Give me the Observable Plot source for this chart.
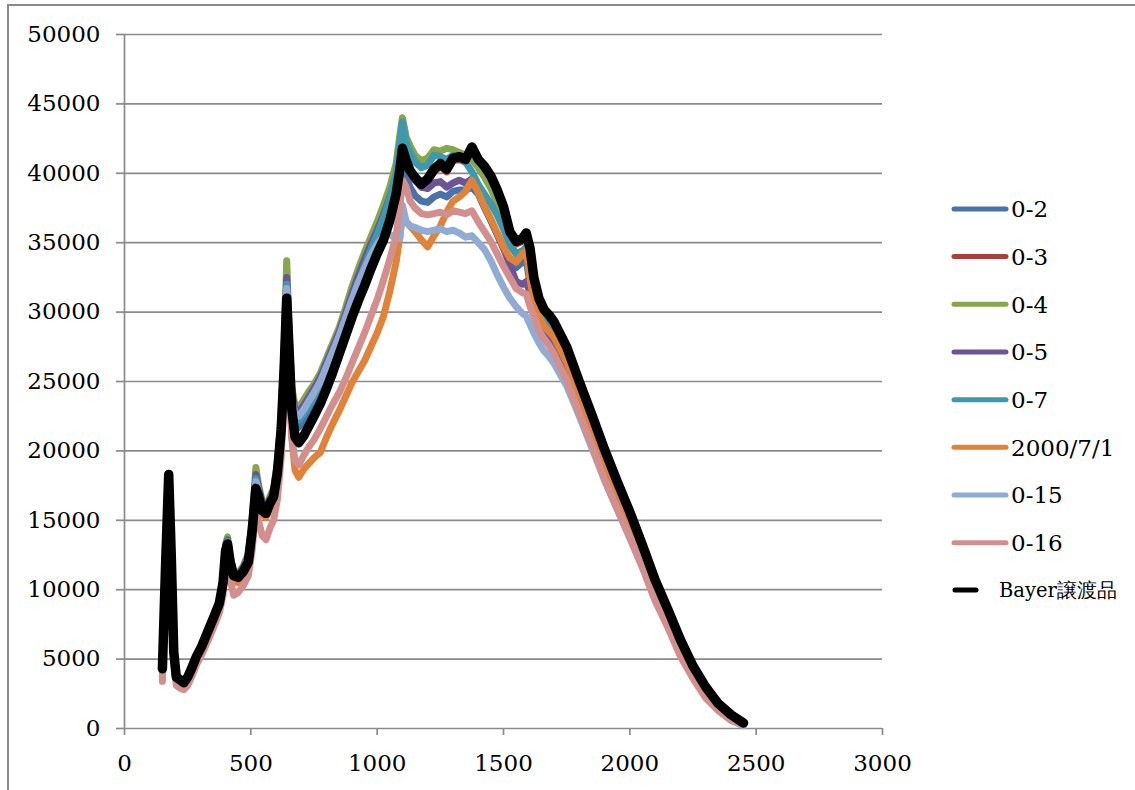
<!DOCTYPE html>
<html><head><meta charset="utf-8">
<script src="https://cdn.jsdelivr.net/npm/d3@7"></script>
<script src="https://cdn.jsdelivr.net/npm/@observablehq/plot@0.6"></script>
<style>
html,body{margin:0;padding:0;overflow:hidden;background:#fff;}
#wrap{position:relative;width:1135px;height:790px;overflow:hidden;}
#frame{position:absolute;left:7px;top:4px;width:1200px;height:900px;border:2px solid #8a8a8a;box-sizing:border-box;pointer-events:none;}
#wrap svg{position:absolute;left:0;top:0;}
</style></head><body><div id="wrap"><div id="frame"></div></div>
<script>
const xs = [150,163,175,185,195,205,220,235,250,265,
285,305,330,355,375,390,400,408,418,432,
450,470,490,505,520,530,545,560,575,590,
605,620,632,642,652,662,675,690,710,730,
750,775,800,825,850,875,900,925,950,975,
1000,1025,1050,1075,1090,1100,1115,1130,1150,1175,
1200,1225,1250,1275,1300,1325,1350,1375,1400,1425,
1450,1475,1500,1525,1550,1575,1590,1605,1620,1640,
1660,1680,1700,1750,1800,1850,1900,1950,2000,2050,
2100,2150,2200,2250,2300,2350,2400,2450];

const s02 = [4200,11900,18100,12300,5400,3600,3400,3200,3600,4200,
5100,5800,6900,8000,9000,10600,12900,13400,12100,11000,
10900,11400,12200,14400,17700,17000,15800,15600,16300,16800,
18600,21800,26400,31400,27400,23400,21900,21700,22200,22800,
23400,24300,25400,26500,27700,29000,30300,31500,32700,33900,
35000,36100,37400,38900,40200,41000,39800,39000,38400,38000,
37900,38300,38500,38300,38700,38800,38800,39000,38500,37500,
36600,35600,34600,33700,33200,33600,33800,32000,30600,29400,
28600,28200,27700,26000,23600,21200,18800,16600,14500,12200,
9900,7900,5800,4000,2600,1500,800,300];

const s03 = [4200,11900,18200,12400,5400,3600,3400,3200,3600,4200,
5100,5800,6900,8000,8900,10400,12700,13200,11900,10900,
10800,11200,11900,14100,17200,16700,15600,15400,16100,16600,
18300,21400,25900,30900,26900,22900,20900,20500,21000,21700,
22400,23300,24400,25600,26900,28200,29500,30700,31800,33000,
34100,35100,36500,38400,40200,41600,40700,40000,39500,39000,
39400,40100,40500,40100,40900,41000,40800,41600,40800,40300,
39600,38600,37400,35600,34900,35100,35500,34400,32300,30800,
30000,29600,29100,27300,24800,22400,19900,17600,15400,13000,
10500,8400,6200,4300,2800,1600,900,350];

const s04 = [4200,12000,18300,12500,5600,3800,3600,3400,3800,4400,
5300,6000,7100,8200,9200,10900,13300,13800,12400,11300,
11200,11700,12600,15000,18800,17600,16400,16000,16700,17300,
19200,22600,27500,33700,28500,24600,23300,23100,23700,24300,
24800,25600,26700,27800,28900,30300,31800,33100,34300,35400,
36500,37700,39000,40700,42800,44000,42600,42000,41300,40900,
41100,41700,41600,41800,41700,41500,41300,41000,40400,39700,
38900,37900,36700,35000,34200,34400,34700,33700,31700,30300,
29500,29000,28500,26600,24000,21600,19100,16900,14800,12500,
10100,8100,6000,4100,2700,1500,800,300];

const s05 = [4200,12000,18200,12400,5500,3700,3500,3300,3700,4300,
5200,5900,7000,8200,9100,10800,13100,13600,12300,11200,
11100,11600,12400,14800,18300,17400,16200,15900,16500,17100,
19000,22300,27000,32500,28200,24200,22900,22800,23300,23900,
24500,25300,26400,27500,28600,29900,31300,32600,33800,34900,
35900,37000,38300,39800,41600,42700,41000,40200,39500,39000,
38900,39300,39400,39000,39300,39500,39300,39600,38600,37600,
36600,35600,34600,33400,32200,32000,32200,31400,30400,29500,
28900,28500,28000,26200,23800,21400,18900,16700,14600,12300,
9900,7900,5800,4000,2600,1500,800,300];

const s07 = [4200,12000,18200,12400,5500,3700,3500,3300,3700,4300,
5200,5900,7000,8100,9100,10700,13000,13500,12200,11100,
11000,11500,12300,14600,18000,17200,16000,15800,16400,17000,
18800,22000,26800,32000,27800,23800,22300,22200,22700,23300,
23900,24700,25800,26900,28100,29400,30800,32100,33300,34500,
35600,36800,38200,40000,42200,43700,42200,41500,40800,40400,
40600,41300,41200,41000,41300,41200,40800,40100,39200,38500,
37800,37000,36000,34800,34200,34400,34600,33200,31600,30300,
29600,29200,28700,26900,24400,22000,19500,17200,15100,12700,
10300,8200,6100,4200,2800,1600,900,350];

const s2000 = [3700,11500,17800,12000,5200,3500,3300,3100,3500,4100,
5000,5700,6800,7900,8800,10200,12200,12700,11400,10600,
10500,10900,11700,13800,16800,16300,15400,15200,15800,16300,
17900,20800,25000,29500,25500,21000,18600,18100,18700,19100,
19500,19900,21000,22000,22900,23900,24900,25700,26500,27500,
28500,29700,31500,33600,35500,36900,36500,36200,35800,35200,
34700,35500,36200,37200,38000,38300,38700,39500,38600,37600,
36700,35700,34700,33900,33600,34200,34400,32400,30800,29700,
29000,28600,28200,26400,24000,21600,19200,17000,14900,12500,
10100,8100,6000,4100,2700,1500,800,300];

const s15 = [3600,11500,17800,12000,5200,3400,3200,3000,3400,4000,
4900,5600,6700,7900,8900,10500,12900,13400,12100,11000,
10900,11400,12200,14500,17800,17100,15900,15600,16300,16900,
18700,22000,26800,31700,27800,23800,22600,22500,23000,23600,
24200,25000,26100,27200,28300,29600,30900,32100,33100,34100,
34900,35500,35600,35300,35300,37700,36500,36200,36100,35900,
35800,35900,36000,35800,35900,35700,35400,35500,35000,34500,
33700,32700,31800,31000,30400,29900,29700,29100,28500,27800,
27200,26800,26300,24700,22500,20200,17900,15800,13700,11600,
9300,7400,5300,3700,2300,1300,600,200];

const s16 = [3400,10500,17200,11500,4800,3100,2900,2800,3100,3700,
4600,5300,6300,7400,8300,9600,11800,12300,10800,9600,
9800,10300,11000,12800,15800,15000,13900,13600,14400,15000,
16500,19500,23800,29500,25800,21000,19300,19000,19700,20300,
20800,21600,22500,23400,24200,25200,26300,27400,28500,29700,
30900,32300,33800,35500,37600,39500,39000,38000,37500,37100,
37000,37100,37200,37000,37300,37200,37100,37300,36500,35800,
35100,34200,33300,32500,31700,31400,31300,30400,29700,28700,
28100,27600,27000,25100,22700,20400,17900,15800,13800,11600,
9200,7300,5200,3600,2200,1300,600,250];

const sBayer = [4300,12000,18300,12500,5500,3700,3500,3300,3700,4300,
5200,5900,7000,8100,9000,10500,12800,13300,12000,11000,
10900,11300,12000,14200,17300,16800,15700,15500,16200,16700,
18400,21500,26000,31000,27000,23000,21000,20600,21100,21800,
22500,23400,24500,25700,27000,28300,29600,30800,31900,33100,
34200,35200,36600,38500,40300,41800,40900,40200,39700,39200,
39600,40300,40700,40300,41100,41200,41000,41900,41000,40500,
39800,38800,37600,35800,35100,35300,35700,34600,32500,31000,
30200,29800,29300,27500,25000,22600,20100,17800,15600,13200,
10700,8600,6400,4500,3000,1800,1000,400];

const seriesNames = ["0-2","0-3","0-4","0-5","0-7","2000/7/1","0-15","0-16","Bayer譲渡品"];
const seriesValues = [s02,s03,s04,s05,s07,s2000,s15,s16,sBayer];
const seriesColors = ["#4a72aa","#a9403e","#86a74a","#6c5596","#3d98b0","#e08339","#91acd4","#d28f8d","#000000"];
const xTicks = [0,500,1000,1500,2000,2500,3000];
const yTicks = [0,5000,10000,15000,20000,25000,30000,35000,40000,45000,50000];

const gray = "#8a8a8a";
const font = "'DejaVu Serif', serif";

const lineMarks = seriesNames.map((name, i) => {
  const vals = seriesValues[i];
  const n = Math.min(xs.length, vals.length);
  const rows = [];
  for (let j = 0; j < n; j++) rows.push({x: xs[j], y: vals[j], s: name});
  const isBlack = i === seriesNames.length - 1;
  return Plot.line(rows, {x: "x", y: "y", stroke: seriesColors[i], strokeWidth: isBlack ? 9.5 : 7,
    strokeLinejoin: "round", strokeLinecap: "round"});
});

const chart = Plot.plot({
  width: 1135, height: 790,
  marginLeft: 124, marginRight: 253, marginTop: 34, marginBottom: 62,
  style: {fontFamily: font, fontSize: "23px", background: "transparent", overflow: "visible"},
  x: {domain: [0, 3000]},
  y: {domain: [0, 50000]},
  marks: [
    Plot.ruleY(yTicks, {stroke: gray, strokeWidth: 1.7}),
    Plot.ruleX([0], {stroke: gray, strokeWidth: 1.7}),
    Plot.axisY({ticks: yTicks, tickSize: 8, tickPadding: 16, stroke: gray, strokeWidth: 1.7, fill: "#000",
      tickFormat: d => String(d), label: null, fontSize: 23}),
    Plot.axisX({ticks: xTicks, tickSize: 7, tickPadding: 19, stroke: gray, strokeWidth: 1.7, fill: "#000",
      tickFormat: d => String(d), label: null, fontSize: 23}),
    ...lineMarks
  ]
});
document.getElementById("wrap").appendChild(chart);

// Legend
const legendY = [209, 256.5, 304.3, 352, 399.7, 447.3, 495, 542.7, 590];
const leg = d3.select("#wrap").append("svg")
  .attr("width", 1135).attr("height", 790)
  .style("pointer-events", "none")
  .style("font-family", font);
seriesNames.forEach((name, i) => {
  const y = legendY[i];
  const isBlack = i === seriesNames.length - 1;
  leg.append("line")
    .attr("x1", isBlack ? 955 : 954).attr("x2", isBlack ? 976 : 1006)
    .attr("y1", y).attr("y2", y)
    .attr("stroke", seriesColors[i]).attr("stroke-width", 5)
    .attr("stroke-linecap", "round");
  const fs = isBlack ? 19.5 : 23;
  leg.append("text")
    .attr("x", isBlack ? 999 : 1011)
    .attr("y", y + fs * 0.3645)
    .attr("font-size", fs)
    .attr("fill", "#000")
    .text(name);
});
</script>
</body></html>
